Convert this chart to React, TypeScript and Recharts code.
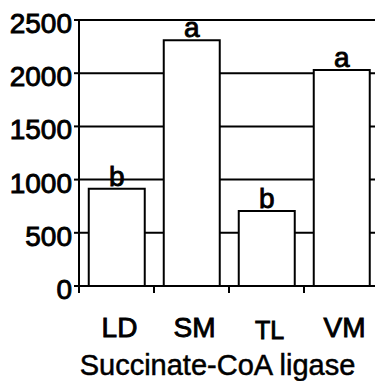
import React from "react";
import { BarChart, Bar, XAxis, YAxis, CartesianGrid, LabelList } from "recharts";

const tissues = ["LD", "SM", "TL", "VM"];
const activity = [915, 2310, 705, 2030];
const groups = ["b", "a", "b", "a"];
const yTicks = [0, 500, 1000, 1500, 2000, 2500];

const data = tissues.map((t, i) => ({ tissue: t, value: activity[i], group: groups[i] }));

const CHART_W = 390;
const CHART_H = 381;
const Y_W = 79;
const RIGHT = 11;
const BAND = (CHART_W - Y_W - RIGHT) / tissues.length;

// heavier text, the scanned figure's glyphs are thicker than plain Liberation Sans
const inkText = { fill: "#000", stroke: "#000", strokeWidth: 0.9 };

function TissueTick(props: any) {
  const { x, y, payload } = props;
  const small = payload.value === "TL";
  return (
    <g>
      <line x1={x - BAND / 2} x2={x - BAND / 2} y1={y} y2={y + 7} stroke="#000" strokeWidth={2} />
      <text
        x={x + 3}
        y={y + (small ? 53 : 51)}
        textAnchor="middle"
        fontSize={small ? 25 : 28}
        {...inkText}
      >
        {payload.value}
      </text>
    </g>
  );
}

export default function App() {
  return (
    <div
      style={{
        position: "fixed",
        top: 0,
        left: 0,
        width: 375,
        height: 381,
        overflow: "hidden",
        background: "#fff",
        fontFamily: "'Liberation Sans', Arial, sans-serif",
      }}
    >
      <style>{`body { margin: 0; }`}</style>
      <BarChart
        width={CHART_W}
        height={CHART_H}
        data={data}
        margin={{ top: 20, right: RIGHT, bottom: 0, left: 0 }}
        barCategoryGap="13%"
      >
        <CartesianGrid vertical={false} stroke="#000" strokeWidth={2} />
        <XAxis
          dataKey="tissue"
          height={95}
          axisLine={{ stroke: "#000", strokeWidth: 2 }}
          tickLine={false}
          tickSize={0}
          tickMargin={0}
          tick={<TissueTick />}
          interval={0}
        />
        <YAxis
          width={Y_W}
          domain={[0, 2500]}
          ticks={yTicks}
          interval={0}
          axisLine={{ stroke: "#000", strokeWidth: 2 }}
          tickLine={{ stroke: "#000", strokeWidth: 2 }}
          tickSize={5}
          tickMargin={2}
          tick={{ ...inkText, fontSize: 28, dy: 3 }}
        />
        <Bar dataKey="value" fill="#fff" stroke="#000" strokeWidth={2} isAnimationActive={false}>
          <LabelList dataKey="group" position="top" offset={3} fontSize={28} {...inkText} />
        </Bar>
      </BarChart>
      <div
        style={{
          position: "absolute",
          left: 0,
          width: 435,
          top: 349,
          textAlign: "center",
          fontSize: 29,
          lineHeight: "32px",
          color: "#000",
          WebkitTextStroke: "0.5px #000",
        }}
      >
        Succinate-CoA ligase
      </div>
    </div>
  );
}
